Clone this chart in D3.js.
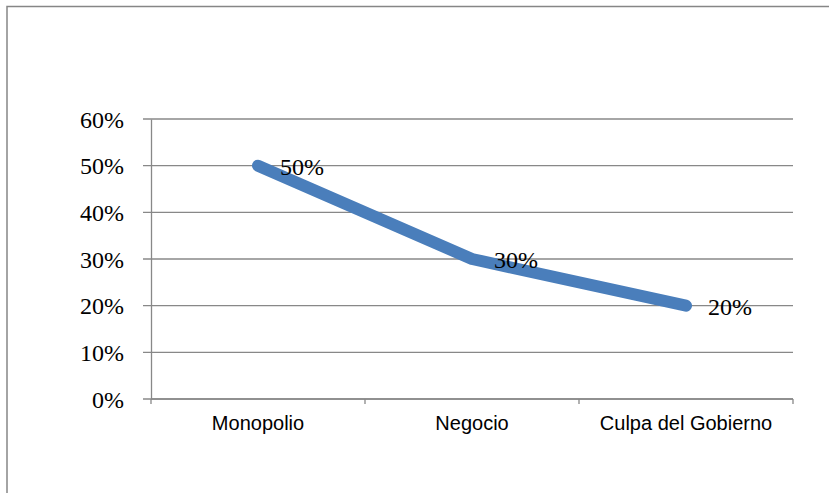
<!DOCTYPE html>
<html>
<head>
<meta charset="utf-8">
<script src="https://cdn.jsdelivr.net/npm/d3@7"></script>
<style>
  body { margin: 0; background: #fff; }
  svg { display: block; }
</style>
</head>
<body>
<svg id="chart"></svg>
<script>
var width = 829;
var height = 493;

// data
var categories = ["Monopolio", "Negocio", "Culpa del Gobierno"];
var values = [0.50, 0.30, 0.20];
var yTicks = [0, 0.1, 0.2, 0.3, 0.4, 0.5, 0.6];

var plot = { left: 151, right: 793, top: 119, bottom: 399 };

var svg = d3.select("#chart")
    .attr("width", width)
    .attr("height", height);

// outer frame (runs past right/bottom edges)
svg.append("rect")
    .attr("x", 7)
    .attr("y", 6.5)
    .attr("width", width + 20)
    .attr("height", height + 20)
    .attr("fill", "none")
    .attr("stroke", "#868686")
    .attr("stroke-width", 1.5);

// scales
var xScale = d3.scaleBand()
    .domain(categories)
    .range([plot.left, plot.right]);

var yScale = d3.scaleLinear()
    .domain([0, 0.6])
    .range([plot.bottom, plot.top]);

// gridlines
svg.append("g")
    .selectAll("line")
    .data(yTicks)
    .enter()
    .append("line")
      .attr("x1", plot.left - 8)
      .attr("x2", plot.right)
      .attr("y1", d => yScale(d))
      .attr("y2", d => yScale(d))
      .attr("stroke", "#888")
      .attr("stroke-width", 1.3);

// y axis
var yAxis = svg.append("g")
    .attr("transform", `translate(${plot.left}, 0)`)
    .call(
      d3.axisLeft(yScale)
        .tickValues(yTicks)
        .tickFormat(d3.format(".0%"))
        .tickSize(0)
        .tickPadding(27)
    );
yAxis.select(".domain")
    .attr("stroke", "#888")
    .attr("stroke-width", 1.3);
yAxis.selectAll("text")
    .attr("dy", "0.34em")
    .style("font-family", "'Liberation Serif', 'Times New Roman', serif")
    .style("font-size", "24px")
    .attr("fill", "#000");

// x axis
var xAxis = svg.append("g")
    .attr("transform", `translate(0, ${plot.bottom})`)
    .call(
      d3.axisBottom(xScale)
        .tickSize(0)
        .tickPadding(17)
    );
xAxis.select(".domain").remove();
xAxis.append("line")
    .attr("x1", plot.left)
    .attr("x2", plot.right)
    .attr("stroke", "#888")
    .attr("stroke-width", 1.3);
xAxis.selectAll(".sep")
    .data([0, 1, 2, 3])
    .enter()
    .append("line")
      .attr("x1", d => plot.left + d * xScale.bandwidth())
      .attr("x2", d => plot.left + d * xScale.bandwidth())
      .attr("y1", 0)
      .attr("y2", 5)
      .attr("stroke", "#888")
      .attr("stroke-width", 1.3);
xAxis.selectAll("text")
    .style("font-family", "'Liberation Sans', Arial, sans-serif")
    .style("font-size", "20px")
    .attr("fill", "#000");

// line
var points = categories.map((c, i) => ({ cat: c, value: values[i] }));
var line = d3.line()
    .x(d => xScale(d.cat) + xScale.bandwidth() / 2)
    .y(d => yScale(d.value));

svg.append("path")
    .datum(points)
    .attr("d", line)
    .attr("fill", "none")
    .attr("stroke", "#4a7ebb")
    .attr("stroke-width", 12)
    .attr("stroke-linecap", "round")
    .attr("stroke-linejoin", "round");

// data labels
svg.append("g")
    .selectAll("text")
    .data(points)
    .enter()
    .append("text")
      .attr("x", d => xScale(d.cat) + xScale.bandwidth() / 2 + 22)
      .attr("y", d => yScale(d.value) + 9)
      .style("font-family", "'Liberation Serif', 'Times New Roman', serif")
      .style("font-size", "24px")
      .attr("fill", "#000")
      .text(d => d3.format(".0%")(d.value));
</script>
</body>
</html>
